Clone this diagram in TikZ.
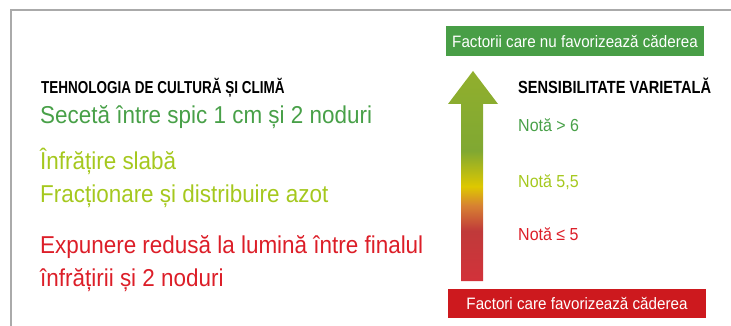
\documentclass[tikz,border=0pt]{standalone}
\usepackage{fontspec}
\setmainfont{Liberation Sans}[FakeStretch=0.92]
\newfontfamily\headA{Liberation Sans}[FakeStretch=0.78]
\newfontfamily\headB{Liberation Sans}[FakeStretch=0.83]
\definecolor{framegray}{RGB}{170,170,170}
\definecolor{darkgreen}{RGB}{72,160,72}
\definecolor{limegreen}{RGB}{165,200,30}
\definecolor{alertred}{RGB}{220,30,40}
\definecolor{boxgreen}{RGB}{72,158,70}
\definecolor{boxred}{RGB}{205,25,30}
\definecolor{rbot}{RGB}{210,50,58}
\definecolor{rmid}{RGB}{192,58,58}
\definecolor{orng}{RGB}{215,130,50}
\definecolor{yel}{RGB}{222,200,0}
\definecolor{olv}{RGB}{128,168,50}
\definecolor{olvtop}{RGB}{145,175,45}
\pgfdeclareverticalshading{arrowgrad}{100bp}{color(0bp)=(rbot); color(25bp)=(rbot); color(37bp)=(rmid); color(43bp)=(orng); color(47.5bp)=(yel); color(56bp)=(olv); color(75bp)=(olvtop); color(100bp)=(olvtop)}
\tikzset{
  txt/.style={anchor=base west, inner sep=0pt, align=left},
  bigtxt/.style={txt, font=\fontsize{24.4}{33}\selectfont},
  notetxt/.style={txt, font=\fontsize{17.4}{20}\selectfont},
  banner/.style={inner sep=0pt, text=white, font=\fontsize{16.5}{20}\selectfont},
}
\begin{document}
\begin{tikzpicture}[x=1pt, y=-1pt]
\useasboundingbox (0,0) rectangle (731,326);
% frame
\coordinate (fbl) at (11,326);
\coordinate (ftl) at (11,10);
\coordinate (ftr) at (731,10);
\draw[framegray, line width=2pt] (fbl) -- (ftl) -- (ftr);
% banners
\node[banner, fill=boxgreen, minimum width=258pt, minimum height=30pt] (topbox) at (575,41) {Factorii care nu favorizează căderea};
\node[banner, fill=boxred, minimum width=258pt, minimum height=29pt] (botbox) at (577,303.5) {Factori care favorizează căderea};
% arrow
\shade[shading=arrowgrad] (461,281) -- (461,104) -- (448,104) -- (473,71) -- (498,104) -- (483,104) -- (483,281) -- cycle;
% left texts
\node[txt, font=\headA\bfseries\fontsize{17.3}{20}\selectfont] (h1) at (41,93.5) {TEHNOLOGIA DE CULTURĂ ȘI CLIMĂ};
\node[bigtxt, text=darkgreen] (t1) at (40,124) {Secetă între spic 1 cm și 2 noduri};
\node[bigtxt, text=limegreen] (t2) at (40,170) {Înfrățire slabă};
\node[bigtxt, text=limegreen] (t3) at (40,202) {Fracționare și distribuire azot};
\node[bigtxt, text=alertred] (t4) at (40,253) {Expunere redusă la lumină între finalul};
\node[bigtxt, text=alertred] (t5) at (40,286) {înfrățirii și 2 noduri};
% right texts
\node[txt, font=\headB\bfseries\fontsize{17.6}{20}\selectfont] (h2) at (518,93.5) {SENSIBILITATE VARIETALĂ};
\node[notetxt, text=darkgreen] (n1) at (518,132) {Notă > 6};
\node[notetxt, text=limegreen] (n2) at (518,187) {Notă 5,5};
\node[notetxt, text=alertred] (n3) at (518,240) {Notă ≤ 5};
\end{tikzpicture}
\end{document}
